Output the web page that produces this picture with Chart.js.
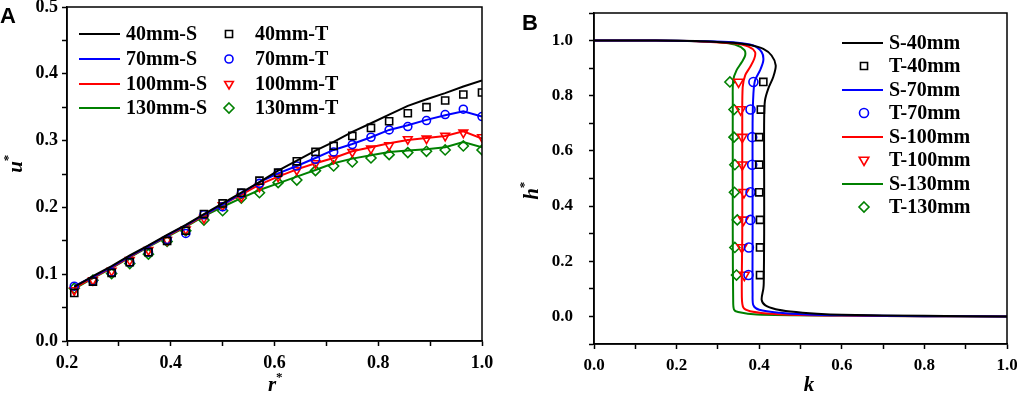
<!DOCTYPE html>
<html>
<head>
<meta charset="utf-8">
<script src="https://cdn.jsdelivr.net/npm/chart.js@4.4.0/dist/chart.umd.min.js"></script>
<style>
  html, body { margin: 0; padding: 0; background: #fff; }
  #wrap { position: relative; width: 1017px; height: 393px; overflow: hidden; }
  .panel { position: absolute; top: 0; height: 393px; }
  #pa { left: 0; width: 500px; }
  #pb { left: 500px; width: 517px; }
</style>
</head>
<body>
<div id="wrap">
  <div class="panel" id="pa"><canvas id="chartA"></canvas></div>
  <div class="panel" id="pb"><canvas id="chartB"></canvas></div>
</div>
<script>
// ---- panel A : u* against r* ----
const rStar = [0.214, 0.25, 0.286, 0.321, 0.357, 0.393, 0.429, 0.464, 0.5, 0.536, 0.571, 0.607,
               0.643, 0.679, 0.714, 0.75, 0.786, 0.821, 0.857, 0.893, 0.929, 0.964, 1.0];
const u40S  = [0.081, 0.097, 0.112, 0.128, 0.143, 0.159, 0.174, 0.190, 0.206, 0.222, 0.238, 0.255,
               0.270, 0.285, 0.298, 0.313, 0.326, 0.339, 0.352, 0.362, 0.371, 0.381, 0.390];
const u40T  = [0.072, 0.089, 0.102, 0.118, 0.133, 0.150, 0.165, 0.190, 0.206, 0.222, 0.240, 0.252,
               0.269, 0.283, 0.292, 0.307, 0.319, 0.329, 0.341, 0.350, 0.360, 0.369, 0.372];
const u70S  = [0.082, 0.096, 0.111, 0.127, 0.142, 0.158, 0.173, 0.189, 0.204, 0.221, 0.238, 0.251,
               0.262, 0.274, 0.286, 0.295, 0.305, 0.316, 0.323, 0.331, 0.338, 0.344, 0.336];
const u70T  = [0.082, 0.090, 0.103, 0.118, 0.133, 0.152, 0.161, 0.189, 0.201, 0.221, 0.236, 0.251,
               0.262, 0.272, 0.283, 0.294, 0.305, 0.316, 0.321, 0.330, 0.339, 0.347, 0.336];
const u100S = [0.079, 0.095, 0.110, 0.126, 0.142, 0.157, 0.172, 0.188, 0.204, 0.219, 0.234, 0.246,
               0.257, 0.266, 0.274, 0.284, 0.290, 0.296, 0.301, 0.304, 0.307, 0.314, 0.303];
const u100T = [0.076, 0.091, 0.105, 0.121, 0.136, 0.151, 0.167, 0.184, 0.203, 0.216, 0.231, 0.246,
               0.256, 0.266, 0.273, 0.283, 0.288, 0.293, 0.302, 0.303, 0.307, 0.312, 0.305];
const u130S = [0.078, 0.094, 0.109, 0.125, 0.141, 0.156, 0.171, 0.187, 0.201, 0.214, 0.226, 0.236,
               0.246, 0.256, 0.266, 0.273, 0.278, 0.283, 0.285, 0.287, 0.290, 0.298, 0.290];
const u130T = [0.079, 0.091, 0.101, 0.116, 0.130, 0.149, 0.165, 0.181, 0.195, 0.214, 0.222, 0.237,
               0.241, 0.255, 0.262, 0.268, 0.274, 0.279, 0.282, 0.284, 0.286, 0.292, 0.286];
const labelsA = ['40mm-S', '40mm-T', '70mm-S', '70mm-T', '100mm-S', '100mm-T', '130mm-S', '130mm-T'];

// ---- panel B : h* against k ----
const kS40  = [0, 0.15, 0.257, 0.337, 0.378, 0.410, 0.430, 0.440, 0.434, 0.422, 0.414, 0.412, 0.412, 0.412,
               0.411, 0.410, 0.406, 0.415, 0.440, 0.475, 0.540, 0.60, 0.80, 1.0];
const hS40  = [1.0, 1.0, 0.998, 0.992, 0.984, 0.970, 0.946, 0.910, 0.868, 0.826, 0.783, 0.711, 0.50, 0.30,
               0.12, 0.10, 0.06, 0.040, 0.026, 0.018, 0.010, 0.006, 0.002, 0.0];
const kS70  = [0, 0.15, 0.257, 0.337, 0.386, 0.406, 0.410, 0.402, 0.390, 0.386, 0.384, 0.384, 0.384,
               0.384, 0.386, 0.400, 0.450, 0.515, 0.60, 0.80, 1.0];
const hS70  = [1.0, 1.0, 0.998, 0.994, 0.982, 0.958, 0.928, 0.892, 0.856, 0.808, 0.70, 0.50, 0.30,
               0.08, 0.040, 0.024, 0.013, 0.007, 0.004, 0.001, 0.0];
const kS100 = [0, 0.15, 0.257, 0.337, 0.374, 0.390, 0.388, 0.378, 0.366, 0.360, 0.359, 0.359, 0.359,
               0.358, 0.362, 0.378, 0.418, 0.475, 0.60, 0.80, 1.0];
const hS100 = [1.0, 1.0, 0.997, 0.990, 0.978, 0.958, 0.934, 0.904, 0.874, 0.831, 0.70, 0.50, 0.30,
               0.07, 0.031, 0.019, 0.011, 0.006, 0.003, 0.001, 0.0];
const kS130 = [0, 0.15, 0.250, 0.297, 0.341, 0.364, 0.366, 0.358, 0.345, 0.337, 0.336, 0.336, 0.336,
               0.337, 0.339, 0.349, 0.394, 0.60, 0.80, 1.0];
const hS130 = [1.0, 1.0, 0.998, 0.995, 0.986, 0.966, 0.946, 0.922, 0.892, 0.856, 0.783, 0.50, 0.30,
               0.06, 0.025, 0.016, 0.007, 0.003, 0.001, 0.0];
const hT    = [0.15, 0.25, 0.35, 0.45, 0.55, 0.65, 0.75, 0.85];
const kT40  = [0.402, 0.402, 0.402, 0.400, 0.400, 0.400, 0.404, 0.410];
const kT70  = [0.374, 0.375, 0.379, 0.379, 0.383, 0.383, 0.379, 0.386];
const kT100 = [0.364, 0.358, 0.362, 0.363, 0.359, 0.359, 0.355, 0.350];
const kT130 = [0.345, 0.341, 0.347, 0.340, 0.341, 0.339, 0.339, 0.329];
const labelsB = ['S-40mm', 'T-40mm', 'S-70mm', 'T-70mm', 'S-100mm', 'T-100mm', 'S-130mm', 'T-130mm'];

const BLACK = '#000000', BLUE = '#0000ff', RED = '#ff0000', GREEN = '#008000';
const SERIF = '"Liberation Serif", "Times New Roman", serif';

const pairs = (xs, ys) => xs.map((x, i) => ({ x: x, y: ys[i] }));

function lineSet(label, xs, ys, color, tension) {
  return { label, data: pairs(xs, ys), showLine: true, borderColor: color, backgroundColor: color,
           borderWidth: 2, pointRadius: 0, tension: tension };
}
function markSet(label, xs, ys, color, style, r, rot) {
  return { label, data: pairs(xs, ys), showLine: false, borderColor: color,
           backgroundColor: 'rgba(0,0,0,0)', pointStyle: style, pointRadius: r,
           pointRotation: rot || 0, pointBorderWidth: 1.6 };
}

function drawMarker(ctx, style, r, rot, x, y) {
  ctx.beginPath();
  if (style === 'circle') {
    ctx.arc(x, y, r, 0, Math.PI * 2);
  } else if (style === 'rect') {
    const s = r * Math.SQRT1_2;
    ctx.rect(x - s, y - s, 2 * s, 2 * s);
  } else if (style === 'rectRot') {
    ctx.moveTo(x, y - r); ctx.lineTo(x + r, y); ctx.lineTo(x, y + r); ctx.lineTo(x - r, y); ctx.closePath();
  } else if (style === 'triangle') {
    const d = rot ? -1 : 1;
    ctx.moveTo(x, y - d * r);
    ctx.lineTo(x + r * 0.866, y + d * r * 0.5);
    ctx.lineTo(x - r * 0.866, y + d * r * 0.5);
    ctx.closePath();
  }
  ctx.stroke();
}

function starTitle(ctx, t) {
  ctx.save();
  ctx.translate(t.x, t.y);
  if (t.rotate) ctx.rotate(-Math.PI / 2);
  ctx.fillStyle = '#000';
  ctx.textBaseline = 'alphabetic';
  ctx.font = 'italic bold 21px ' + SERIF;
  const w = ctx.measureText(t.text).width;
  const total = w + (t.star ? 8 : 0);
  ctx.fillText(t.text, -total / 2, 0);
  if (t.star) {
    ctx.font = 'bold 13px ' + SERIF;
    ctx.fillText('*', -total / 2 + w, -10);
  }
  ctx.restore();
}

// frame, panel letter, axis titles and the two-column legend
const decor = {
  id: 'decor',
  afterDraw(chart, args, opts) {
    const ctx = chart.ctx, a = chart.chartArea;
    ctx.save();
    ctx.strokeStyle = '#000';
    ctx.lineWidth = 1.5;
    ctx.strokeRect(a.left, a.top, a.right - a.left, a.bottom - a.top);

    ctx.fillStyle = '#000';
    ctx.font = 'bold 22px "Liberation Sans", Arial, sans-serif';
    ctx.textBaseline = 'alphabetic';
    ctx.fillText(opts.letter, opts.letterX, opts.letterY);

    opts.titles.forEach(t => starTitle(ctx, t));

    ctx.font = 'bold 20px ' + SERIF;
    ctx.textBaseline = 'middle';
    opts.legend.forEach(item => {
      const ds = chart.data.datasets[item.i];
      ctx.strokeStyle = ds.borderColor;
      if (ds.showLine) {
        ctx.lineWidth = 2;
        ctx.beginPath();
        ctx.moveTo(item.x, item.y);
        ctx.lineTo(item.x + 41, item.y);
        ctx.stroke();
      } else {
        ctx.lineWidth = 1.6;
        drawMarker(ctx, ds.pointStyle, ds.pointRadius, ds.pointRotation, item.x, item.y);
      }
      ctx.fillStyle = '#000';
      ctx.fillText(ds.label, item.tx, item.y + 1);
    });
    ctx.restore();
  }
};

function axis(min, max, step, size, fit, isX, pad, showFn) {
  return {
    type: 'linear', min: min, max: max,
    ticks: { stepSize: step, autoSkip: false, maxRotation: 0, color: '#000', padding: pad,
             font: { family: SERIF, size: size, weight: 'bold' },
             callback: v => showFn(v) ? v.toFixed(1) : '' },
    grid: { drawOnChartArea: false, drawTicks: true, tickLength: 5, tickColor: '#000', tickWidth: 1.5 },
    border: { color: '#000', width: 1.5 },
    afterFit: s => {
      if (isX) { s.height = fit; s.paddingLeft = 0; s.paddingRight = 0; }
      else { s.width = fit; s.paddingTop = 0; s.paddingBottom = 0; }
    }
  };
}
const everyTenth = v => Math.abs(v * 10 - Math.round(v * 10)) < 1e-6;
const everyFifth = v => everyTenth(v) && Math.round(v * 10) % 2 === 0 && v > -0.001;

new Chart(document.getElementById('chartA'), {
  type: 'scatter',
  data: {
    datasets: [
      lineSet(labelsA[0], rStar, u40S, BLACK, 0),
      markSet(labelsA[1], rStar, u40T, BLACK, 'rect', 5),
      lineSet(labelsA[2], rStar, u70S, BLUE, 0),
      markSet(labelsA[3], rStar, u70T, BLUE, 'circle', 4),
      lineSet(labelsA[4], rStar, u100S, RED, 0),
      markSet(labelsA[5], rStar, u100T, RED, 'triangle', 5, 180),
      lineSet(labelsA[6], rStar, u130S, GREEN, 0),
      markSet(labelsA[7], rStar, u130T, GREEN, 'rectRot', 5)
    ]
  },
  options: {
    responsive: true, maintainAspectRatio: false, animation: false,
    layout: { padding: { left: 0, top: 7, right: 18, bottom: 0 } },
    scales: {
      x: axis(0.2, 1.0, 0.1, 18, 52, true, 7, everyFifth),
      y: axis(0, 0.5, 0.05, 18, 67, false, 4, everyTenth)
    },
    plugins: {
      legend: { display: false },
      tooltip: { enabled: false },
      decor: {
        letter: 'A', letterX: 0, letterY: 23,
        titles: [
          { text: 'r', star: true, x: 276, y: 391 },
          { text: 'u', star: true, x: 22, y: 163, rotate: true }
        ],
        legend: [
          { i: 0, x: 79, y: 34, tx: 126 }, { i: 1, x: 229, y: 34, tx: 255 },
          { i: 2, x: 79, y: 59, tx: 126 }, { i: 3, x: 229, y: 59, tx: 255 },
          { i: 4, x: 79, y: 84, tx: 126 }, { i: 5, x: 229, y: 84, tx: 255 },
          { i: 6, x: 79, y: 108, tx: 126 }, { i: 7, x: 229, y: 108, tx: 255 }
        ]
      }
    }
  },
  plugins: [decor]
});

new Chart(document.getElementById('chartB'), {
  type: 'scatter',
  data: {
    datasets: [
      lineSet(labelsB[0], kS40, hS40, BLACK, 0.3),
      markSet(labelsB[1], kT40, hT, BLACK, 'rect', 5),
      lineSet(labelsB[2], kS70, hS70, BLUE, 0.3),
      markSet(labelsB[3], kT70, hT, BLUE, 'circle', 4.5),
      lineSet(labelsB[4], kS100, hS100, RED, 0.3),
      markSet(labelsB[5], kT100, hT, RED, 'triangle', 5.5, 180),
      lineSet(labelsB[6], kS130, hS130, GREEN, 0.3),
      markSet(labelsB[7], kT130, hT, GREEN, 'rectRot', 5)
    ]
  },
  options: {
    responsive: true, maintainAspectRatio: false, animation: false,
    layout: { padding: { left: 0, top: 13, right: 10, bottom: 0 } },
    scales: {
      x: axis(0, 1.0, 0.1, 17, 49, true, 6, everyFifth),
      y: axis(-0.1, 1.1, 0.1, 17, 94, false, 16, v => everyFifth(v) && v < 1.001)
    },
    plugins: {
      legend: { display: false },
      tooltip: { enabled: false },
      decor: {
        letter: 'B', letterX: 22, letterY: 30,
        titles: [
          { text: 'k', star: false, x: 309, y: 391 },
          { text: 'h', star: true, x: 38, y: 190, rotate: true }
        ],
        legend: [
          { i: 0, x: 342, y: 43, tx: 389 }, { i: 1, x: 364, y: 66, tx: 389 },
          { i: 2, x: 342, y: 90, tx: 389 }, { i: 3, x: 364, y: 113, tx: 389 },
          { i: 4, x: 342, y: 137, tx: 389 }, { i: 5, x: 364, y: 160, tx: 389 },
          { i: 6, x: 342, y: 184, tx: 389 }, { i: 7, x: 364, y: 207, tx: 389 }
        ]
      }
    }
  },
  plugins: [decor]
});
</script>
</body>
</html>
